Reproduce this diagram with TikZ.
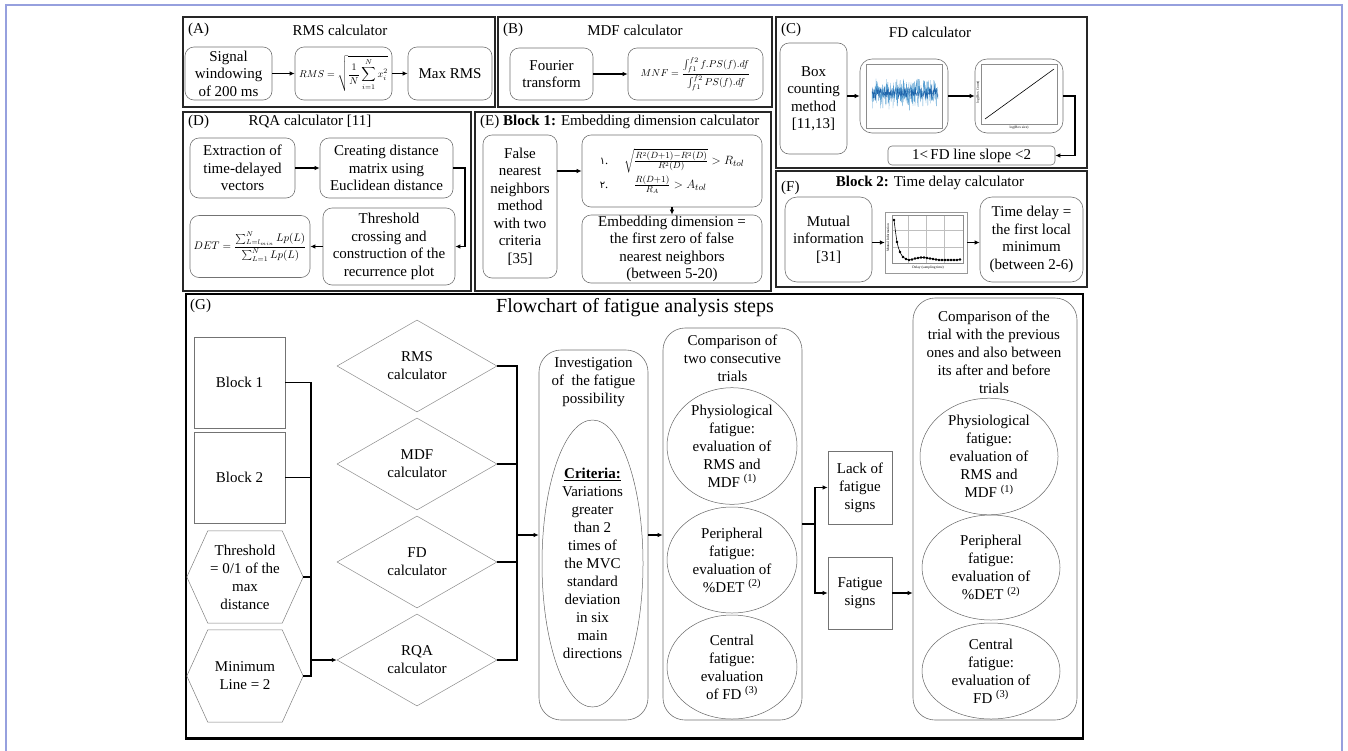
\documentclass[tikz,border=0pt]{standalone}
\usepackage{fontspec}
\setmainfont{Liberation Serif}
\newfontfamily\arabicfont[Script=Arabic]{DejaVu Sans}
\usetikzlibrary{shapes.geometric,arrows.meta,calc}
\newcommand\fs{\fontsize{15}{17.5}\selectfont}
\newcommand\fg{\fontsize{15}{18}\selectfont}
\newcommand\fm{\fontsize{10}{11}\selectfont}
\newcommand\ftiny{\fontsize{3.5}{4}\selectfont}
\definecolor{framecol}{RGB}{150,160,222}
\definecolor{sigblue}{RGB}{90,160,210}
\definecolor{sigdark}{RGB}{30,100,170}
\tikzset{
  panel/.style={draw=black!85,line width=1.5pt,inner sep=0pt},
  rbox/.style={draw=black!55,line width=0.6pt,rounded corners=9pt,align=center,font=\fs,inner sep=0pt},
  gbox/.style={draw=black!55,line width=0.6pt,align=center,font=\fg,inner sep=0pt},
  gtxt/.style={align=center,font=\fg,inner sep=0pt},
  gell/.style={ellipse,draw=black!60,line width=0.5pt,align=center,font=\fg,inner sep=0pt},
  gdia/.style={diamond,draw=black!45,line width=0.5pt,align=center,font=\fg,inner sep=0pt,aspect=1.74},
  hexline/.style={draw=black!50,line width=0.5pt},
  conn/.style={line width=1.3pt,black},
  arr/.style={conn,-{Latex[length=5pt,width=4.5pt]}},
  ttl/.style={font=\fs,inner sep=0pt},
  plotframe/.style={draw=black!45,line width=0.4pt},
}
\begin{document}
\begin{tikzpicture}[x=1pt,y=-1pt]
\useasboundingbox (0,0) rectangle (1348,750);
\fill[white] (0,0) rectangle (1348,750);
\draw[framecol,line width=1.5pt] (6,751) -- (6,5) -- (1342,5) -- (1342,751);

% ---------------- Panel A
\node[panel,minimum width=312,minimum height=90] (pA) at (339,62) {};
\node[ttl,anchor=west] (lA) at (188,30) {(A)};
\node[ttl] (tA) at (340,30) {RMS calculator};
\node[rbox,minimum width=87,minimum height=53] (sig) at (228.5,73.5) {Signal\\windowing\\of 200 ms};
\node[rbox,minimum width=97,minimum height=53] (rmsf) at (343.5,73.5) {\fm$\displaystyle RMS=\sqrt{\frac{1}{N}\sum_{i=1}^{N}x_i^2}$};
\node[rbox,minimum width=84,minimum height=53] (maxr) at (450,73.5) {Max RMS};
\draw[arr] (sig) -- (rmsf);
\draw[arr] (rmsf) -- (maxr);

% ---------------- Panel B
\node[panel,minimum width=274,minimum height=90] (pB) at (635,62) {};
\node[ttl,anchor=west] (lB) at (503,30) {(B)};
\node[ttl] (tB) at (635,30) {MDF calculator};
\node[rbox,minimum width=83,minimum height=52] (four) at (551.5,74) {Fourier\\transform};
\node[rbox,minimum width=135,minimum height=52] (mnf) at (695.5,74) {\fm$\displaystyle MNF=\frac{\int_{f1}^{f2} f.PS(f).df}{\int_{f1}^{f2} PS(f).df}$};
\draw[arr] (four) -- (mnf);

% ---------------- Panel C
\node[panel,minimum width=311,minimum height=151] (pC) at (931.5,92.5) {};
\node[ttl,anchor=west] (lC) at (781,30) {(C)};
\node[ttl] (tC) at (930,32) {FD calculator};
\node[rbox,minimum width=67,minimum height=111] (boxc) at (813.5,98.5) {Box\\counting\\method\\{}[11,13]};
\node[rbox,minimum width=88,minimum height=74,rounded corners=12pt] (img1) at (904,96) {};
\node[rbox,minimum width=88,minimum height=74,rounded corners=12pt] (img2) at (1019,96) {};
\node[rbox,minimum width=167,minimum height=19,rounded corners=4pt] (slope) at (971.5,155.5) {1<\,FD line slope <2};
% plot 1 (signal)
\draw[plotframe] (866,64) rectangle (942,128);
\pgfmathsetseed{7}
\draw[sigblue,line width=0.3pt] plot[domain=872:938,samples=280] (\x,{93+9*(rand+rand)});
\draw[sigdark,line width=0.3pt] plot[domain=872:938,samples=200] (\x,{93+4*(rand+rand)});
% plot 2 (line)
\draw[plotframe] (981,64) rectangle (1057,124);
\draw[black,line width=0.6pt] (985,119) -- (1054,69);
\node[font=\ftiny,rotate=90,inner sep=0pt] (ylab2) at (978,92) {log(Box Count)};
\node[font=\ftiny,inner sep=0pt] (xlab2) at (1019,128) {log(Box size)};
\draw[arr] (boxc.east |- img1) -- (img1);
\draw[arr] (img1) -- (img2);
\coordinate (cturn) at (1075,155.5);
\draw[arr] (img2.east) -| (cturn) -- (slope.east);

% ---------------- Panel D
\node[panel,minimum width=288,minimum height=179] (pD) at (327,201.5) {};
\node[ttl,anchor=west] (lD) at (188,122) {(D)};
\node[ttl] (tD) at (310,122) {RQA calculator [11]};
\node[rbox,minimum width=105,minimum height=60] (ext) at (242.5,168) {Extraction of\\time-delayed\\vectors};
\node[rbox,minimum width=133,minimum height=60] (cre) at (386.5,168) {Creating distance\\matrix using\\Euclidean distance};
\node[rbox,minimum width=132,minimum height=77] (thr) at (389,246.5) {Threshold\\crossing and\\construction of the\\recurrence plot};
\node[rbox,minimum width=120,minimum height=62] (det) at (250,246.5) {\fontsize{10.5}{12}\selectfont$\displaystyle DET=\frac{\sum_{L=l_{min}}^{N} Lp(L)}{\sum_{L=1}^{N} Lp(L)}$};
\coordinate (dturn) at (465,246.5);
\draw[arr] (ext) -- (cre);
\draw[arr] (cre.east) -| (dturn) -- (thr.east);
\draw[arr] (thr) -- (det);

% ---------------- Panel E
\node[panel,minimum width=296,minimum height=179] (pE) at (623,201.5) {};
\node[ttl,anchor=west] (tE) at (480,122) {(E) \textbf{Block 1:} Embedding dimension calculator};
\node[rbox,minimum width=74,minimum height=143] (fnn) at (520,206.5) {False\\nearest\\neighbors\\method\\with two\\criteria\\{}[35]};
\node[rbox,minimum width=180,minimum height=72] (critE) at (672,171) {\fontsize{12.5}{14}\selectfont
  \begin{tabular}{@{}l@{\hspace{16pt}}l@{}}
  {\arabicfont\fontsize{10}{11}\selectfont ۱}. & $\sqrt{\frac{R^2(D+1)-R^2(D)}{R^2(D)}} > R_{tol}$\\[7pt]
  {\arabicfont\fontsize{10}{11}\selectfont ۲}. & \hspace{10pt}$\frac{R(D+1)}{R_A} > A_{tol}$
  \end{tabular}};
\node[rbox,minimum width=180,minimum height=68] (emb) at (672,249) {Embedding dimension =\\the first zero of false\\nearest neighbors\\(between 5-20)};
\draw[arr] (fnn.east |- critE) -- (critE);
\draw[arr] (critE.south -| emb) -- (emb.north);

% ---------------- Panel F
\node[panel,minimum width=311,minimum height=116] (pF) at (931.5,229) {};
\node[ttl,anchor=west] (lF) at (781,188) {(F)};
\node[ttl] (tF) at (930,183) {\textbf{Block 2:} Time delay calculator};
\node[rbox,minimum width=87,minimum height=85,rounded corners=12pt] (mut) at (828.5,239.5) {Mutual\\information\\{}[31]};
\node[draw=black!40,line width=0.4pt,minimum width=82,minimum height=61,inner sep=0pt] (plotF) at (926,242.5) {};
\node[rbox,minimum width=103,minimum height=85,rounded corners=12pt] (td) at (1031.5,239.5) {Time delay =\\the first local\\minimum\\(between 2-6)};
\draw[black!25,line width=0.3pt] (908,215) -- (908,263) (926,215) -- (926,263) (944,215) -- (944,263)
  (892,230) -- (963,230) (892,247) -- (963,247);
\draw[plotframe] (892,215) rectangle (963,263);
\draw[black,line width=0.6pt] plot[smooth,mark=*,mark size=0.9pt] coordinates {(894,220) (897,242) (900,252) (903,257) (906,259) (909,260) (912,259.5) (915,258.5) (918,258) (921,257.5) (924,257.5) (927,258) (930,258.5) (933,259) (936,259.5) (939,260) (942,260) (945,260) (948,260) (951,260) (954,260) (957,260) (960,259.5)};
\node[font=\ftiny,rotate=90,inner sep=0pt] (ylabF) at (888,238) {Mutual Information};
\node[font=\ftiny,inner sep=0pt] (xlabF) at (928,268) {Delay (sampling time)};
\draw[arr] (mut.east |- plotF) -- (plotF);
\draw[arr] (plotF) -- (td.west |- plotF);

% ---------------- Panel G
\node[draw=black,line width=1.2pt,minimum width=897,minimum height=444,inner sep=0pt] (pG) at (634.5,516) {};
\draw[line width=3pt] (pG.south west) -- (pG.south east);
\node[ttl,anchor=west] (lG) at (190,306) {(G)};
\node[font=\fontsize{20}{22}\selectfont,inner sep=0pt] (tG) at (635,308) {Flowchart of fatigue analysis steps};

\node[gbox,minimum width=91,minimum height=91] (b1) at (239.5,382.5) {Block 1};
\node[gbox,minimum width=91,minimum height=91] (b2) at (239.5,477.5) {Block 2};
\node[gtxt,minimum width=116,minimum height=92] (thh) at (245,577) {Threshold\\= 0/1 of the\\max\\distance};
\node[gtxt,minimum width=116,minimum height=92] (mnh) at (245,676) {Minimum\\Line = 2};
\foreach \h in {thh,mnh}{
  \draw[hexline] (\h.west) -- ([xshift=21pt]\h.north west) -- ([xshift=-21pt]\h.north east) -- (\h.east)
    -- ([xshift=-21pt]\h.south east) -- ([xshift=21pt]\h.south west) -- cycle;
}

\node[gdia,minimum width=160,minimum height=92] (rmsd) at (417,366) {RMS\\calculator};
\node[gdia,minimum width=160,minimum height=92] (mdfd) at (417,464) {MDF\\calculator};
\node[gdia,minimum width=160,minimum height=92] (fdd) at (417,562) {FD\\calculator};
\node[gdia,minimum width=160,minimum height=92] (rqad) at (417,660) {RQA\\calculator};

\coordinate (j) at (311,382.5);
\draw[conn] (b1.east) -- (j) -- (j |- mnh.east) -- (mnh.east);
\draw[conn] (b2.east) -- (b2.east -| j);
\draw[conn] (thh.east) -- (thh.east -| j);
\draw[arr] (rqad.west -| j) -- (rqad.west);

\node[draw=black!55,line width=0.6pt,rounded corners=22pt,minimum width=109,minimum height=370,inner sep=0pt] (inv) at (593.5,535) {};
\node[gtxt] (invt) at (593.5,382) {Investigation\\of~ the fatigue\\possibility};
\node[gell,minimum width=101,minimum height=287] (crit) at (592.5,563.5) {\underline{\textbf{Criteria:}}\\Variations\\greater\\than 2\\times of\\the MVC\\standard\\deviation\\in six\\main\\directions};

\coordinate (k) at (517,535);
\draw[conn] (rmsd.east) -- (rmsd.east -| k) -- (rqad.east -| k) -- (rqad.east);
\draw[conn] (mdfd.east) -- (mdfd.east -| k);
\draw[conn] (fdd.east) -- (fdd.east -| k);
\draw[arr] (k) -- (inv.west);

\node[draw=black!55,line width=0.6pt,rounded corners=22pt,minimum width=139,minimum height=392,inner sep=0pt] (comp) at (732.5,524) {};
\node[gtxt] (compt) at (732.5,358) {Comparison of\\two consecutive\\trials};
\node[gell,minimum width=130,minimum height=114] (cp1) at (732,446) {Physiological\\fatigue:\\evaluation of\\RMS and\\MDF \textsuperscript{(1)}};
\node[gell,minimum width=130,minimum height=106] (cp2) at (732,560) {Peripheral\\fatigue:\\evaluation of\\\%DET \textsuperscript{(2)}};
\node[gell,minimum width=130,minimum height=104] (cp3) at (732,667) {Central\\fatigue:\\evaluation\\of FD \textsuperscript{(3)}};
\draw[arr] (inv.east) -- (comp.west |- inv.east);

\node[gbox,minimum width=64,minimum height=73] (lack) at (860,487.5) {Lack of\\fatigue\\signs};
\node[gbox,minimum width=64,minimum height=72] (fat) at (860,593) {Fatigue\\signs};
\coordinate (m) at (815,524);
\draw[conn] (comp.east) -- (m);
\draw[arr] (m) |- (lack.west);
\draw[arr] (m) |- (fat.west);

\node[draw=black!55,line width=0.6pt,rounded corners=22pt,minimum width=164,minimum height=422,inner sep=0pt] (big) at (995,509) {};
\node[gtxt] (bigt) at (994,352) {Comparison of the\\trial with the previous\\ones and also between\\its after and before\\trials};
\node[gell,minimum width=138,minimum height=113] (bp1) at (989,456.5) {Physiological\\fatigue:\\evaluation of\\RMS and\\MDF \textsuperscript{(1)}};
\node[gell,minimum width=138,minimum height=105] (bp2) at (991,567.5) {Peripheral\\fatigue:\\evaluation of\\\%DET \textsuperscript{(2)}};
\node[gell,minimum width=138,minimum height=96] (bp3) at (991,671) {Central\\fatigue:\\evaluation of\\FD \textsuperscript{(3)}};
\draw[arr] (fat.east) -- (big.west |- fat.east);
\end{tikzpicture}
\end{document}
